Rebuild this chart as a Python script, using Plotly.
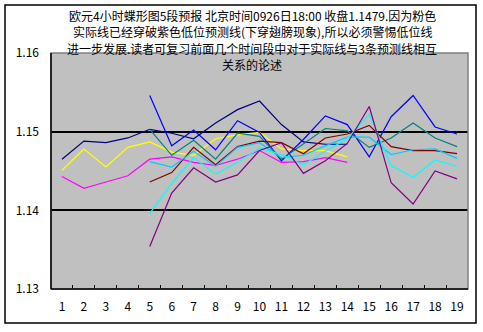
import plotly.graph_objects as go

categories = [str(i) for i in range(1, 20)]

navy = [1.1465, 1.1488, 1.1486, 1.1492, 1.1503, 1.1498, 1.1491, 1.1511, 1.1528, 1.1539, 1.1509, 1.1487, 1.1484, 1.1484]
yellow = [1.1451, 1.1478, 1.1455, 1.1480, 1.1487, 1.1474, 1.1470, 1.1491, 1.1496, 1.1499, 1.1478, 1.1476, 1.1476, 1.1468]
magenta = [1.1443, 1.1428, 1.1436, 1.1444, 1.1465, 1.1468, 1.1461, 1.1457, 1.1465, 1.1476, 1.1461, 1.1462, 1.1467, 1.1461]
# series starting at category 5
blue = [1.1546, 1.1482, 1.1502, 1.1477, 1.1514, 1.1499, 1.1463, 1.1490, 1.1520, 1.1509, 1.1468, 1.1519, 1.1546, 1.1506, 1.1497]
teal = [1.1503, 1.1470, 1.1489, 1.1465, 1.1498, 1.1494, 1.1465, 1.1485, 1.1504, 1.1501, 1.1480, 1.1492, 1.1511, 1.1492, 1.1481]
darkred = [1.1436, 1.1448, 1.1480, 1.1458, 1.1481, 1.1488, 1.1486, 1.1472, 1.1492, 1.1497, 1.1508, 1.1481, 1.1476, 1.1476, 1.1472]
skyblue = [1.1462, 1.1455, 1.1475, 1.1456, 1.1480, 1.1486, 1.1467, 1.1470, 1.1482, 1.1493, 1.1493, 1.1471, 1.1477, 1.1478, 1.1466]
cyan = [1.1396, 1.1434, 1.1467, 1.1446, 1.1461, 1.1479, 1.1471, 1.1458, 1.1475, 1.1491, 1.1522, 1.1457, 1.1442, 1.1464, 1.1456]
purple = [1.1354, 1.1422, 1.1454, 1.1436, 1.1445, 1.1476, 1.1486, 1.1447, 1.1463, 1.1485, 1.1532, 1.1435, 1.1408, 1.1450, 1.1440]

title_lines = [
    "欧元4小时蝶形图5段预报 北京时间0926日18:00 收盘1.1479.因为粉色",
    "实际线已经穿破紫色低位预测线(下穿翅膀现象),所以必须警惕低位线",
    "进一步发展.读者可复习前面几个时间段中对于实际线与3条预测线相互",
    "关系的论述",
]
yticks = [1.13, 1.14, 1.15, 1.16]

series = [
    ("navy", navy, 0, "#000080"),
    ("yellow", yellow, 0, "#FFFF00"),
    ("magenta", magenta, 0, "#FF00FF"),
    ("blue", blue, 4, "#0000FF"),
    ("teal", teal, 4, "#008080"),
    ("darkred", darkred, 4, "#800000"),
    ("skyblue", skyblue, 4, "#00CCFF"),
    ("cyan", cyan, 4, "#00FFFF"),
    ("purple", purple, 4, "#800080"),
]

FONT = "Noto Sans CJK SC"
fig = go.Figure()
for name, vals, start, color in series:
    fig.add_trace(go.Scatter(
        x=categories[start:start + len(vals)], y=vals, mode="lines", name=name,
        line=dict(color=color, width=1.2), showlegend=False, hoverinfo="skip"))

W, H = 483, 332
L, R, T, B = 51, 15, 53, 43
pw, ph = W - L - R, H - T - B

def px(x):
    return (x - L) / pw

def py(y):
    return (H - B - y) / ph

ann = []
ys = [15, 31.5, 48, 64.5]
for t, yy in zip(title_lines, ys):
    ann.append(dict(text=t, x=px(252), y=py(yy), xref="paper", yref="paper",
                    xanchor="center", yanchor="middle", showarrow=False,
                    font=dict(family=FONT, size=12, color="black")))

shapes = [
    dict(type="rect", xref="paper", yref="paper", x0=0, x1=1, y0=0, y1=1,
         line=dict(color="#808080", width=1.5), layer="above"),
    dict(type="line", xref="paper", yref="paper", x0=0, x1=0, y0=0, y1=1,
         line=dict(color="black", width=1.5), layer="above"),
    dict(type="line", xref="paper", yref="paper", x0=0, x1=1, y0=0, y1=0,
         line=dict(color="black", width=1.5), layer="above"),
    dict(type="rect", xref="paper", yref="paper", x0=px(5), x1=px(476), y0=py(323), y1=py(5),
         line=dict(color="black", width=1.5), layer="above"),
]

fig.update_layout(
    width=W, height=H, margin=dict(l=L, r=R, t=T, b=B),
    paper_bgcolor="white", plot_bgcolor="#C0C0C0",
    font=dict(family=FONT, size=12, color="black"),
    annotations=ann, shapes=shapes,
    xaxis=dict(type="category", categoryorder="array", categoryarray=categories,
               range=[-0.5, len(categories) - 0.5], tickangle=0,
               tickson="boundaries", ticks="inside", ticklen=4, tickcolor="black",
               showgrid=False, showline=False, zeroline=False,
               ticklabelstandoff=9, tickfont=dict(family=FONT, size=12)),
    yaxis=dict(range=[1.13, 1.16], tickvals=yticks, ticktext=[f"{v:.2f}" for v in yticks],
               showgrid=True, gridcolor="black", gridwidth=1.5, zeroline=False,
               showline=False, ticks="", ticklabelstandoff=11,
               tickfont=dict(family=FONT, size=12)),
)

fig.write_html("out.html")
